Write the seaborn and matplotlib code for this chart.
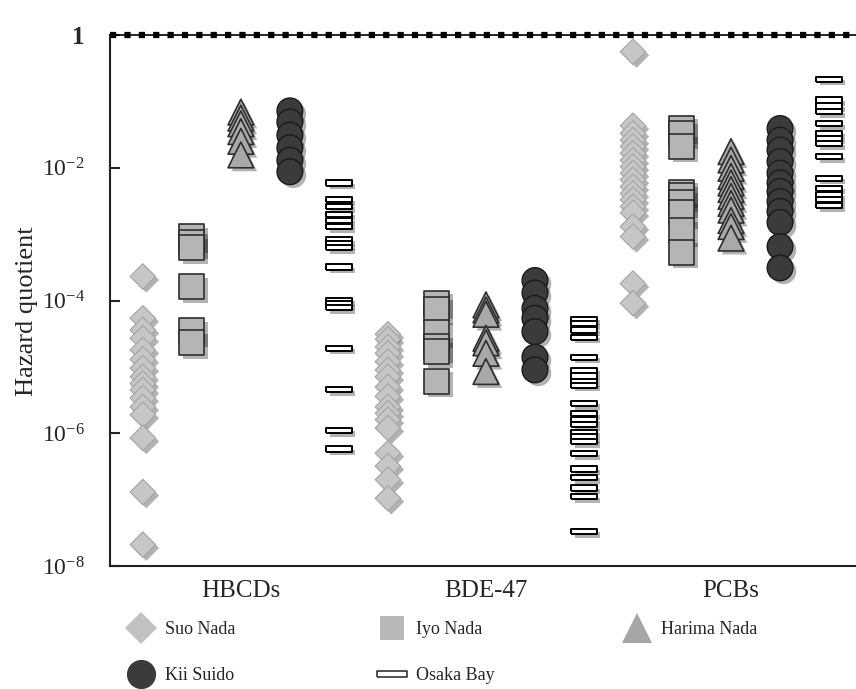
import pandas as pd
import matplotlib
matplotlib.use("Agg")
import matplotlib.pyplot as plt
import matplotlib.patheffects as pe
from matplotlib.lines import Line2D
import seaborn as sns

compounds = ["HBCDs", "BDE-47", "PCBs"]
sites = ["Suo Nada", "Iyo Nada", "Harima Nada", "Kii Suido", "Osaka Bay"]

# hazard quotients
hbcd_suo = [2.3e-4, 5.4e-5, 3.6e-5, 2.7e-5, 1.8e-5, 1.3e-5, 9.6e-6, 7.1e-6, 5.6e-6,
            4.5e-6, 3.4e-6, 2.5e-6, 1.9e-6, 8.5e-7, 1.3e-7, 2.1e-8]
hbcd_iyo = [9.1e-4, 7.4e-4, 6.2e-4, 1.6e-4, 3.5e-5, 2.3e-5]
hbcd_harima = [0.069, 0.056, 0.046, 0.035, 0.025, 0.0156]
hbcd_kii = [0.072, 0.049, 0.031, 0.020, 0.013, 0.0087]
hbcd_osaka = [5.9e-3, 3.3e-3, 2.6e-3, 2.0e-3, 1.6e-3, 1.3e-3, 8.2e-4, 7.1e-4, 6.2e-4,
              3.2e-4, 1.0e-4, 8.9e-5, 7.8e-5, 1.9e-5, 4.5e-6, 1.1e-6, 5.8e-7]

bde_suo = [3.1e-5, 2.6e-5, 2.0e-5, 1.6e-5, 1.2e-5, 9.0e-6, 7.1e-6, 5.0e-6, 3.6e-6,
           2.5e-6, 2.0e-6, 1.6e-6, 1.2e-6, 5.0e-7, 3.2e-7, 2.0e-7, 1.05e-7]
bde_iyo = [9.1e-5, 7.4e-5, 3.3e-5, 2.0e-5, 1.7e-5, 6.1e-6]
bde_harima = [8.6e-5, 7.2e-5, 6.2e-5, 2.7e-5, 2.3e-5, 1.6e-5, 8.5e-6]
bde_kii = [2.0e-4, 1.3e-4, 7.6e-5, 5.4e-5, 3.4e-5, 1.4e-5, 9.0e-6]
bde_osaka = [5.2e-5, 4.5e-5, 3.6e-5, 2.8e-5, 1.4e-5, 8.8e-6, 7.3e-6, 6.1e-6, 5.3e-6,
             2.8e-6, 1.96e-6, 1.6e-6, 1.34e-6, 1.03e-6, 8.9e-7, 7.5e-7, 4.9e-7,
             2.9e-7, 2.15e-7, 1.5e-7, 1.1e-7, 3.3e-8]

pcb_suo = [0.56, 0.043, 0.033, 0.026, 0.021, 0.0166, 0.013, 0.0104, 0.0083, 0.0066,
           0.0052, 0.0041, 0.0033, 0.0026, 0.0021, 0.0013, 0.00092, 1.8e-4, 9.1e-5]
pcb_iyo = [0.039, 0.033, 0.021, 0.0043, 0.0038, 0.0030, 0.0021, 0.00113, 0.00053]
pcb_harima = [0.0175, 0.0131, 0.0098, 0.0074, 0.0059, 0.0047, 0.0037, 0.0029,
              0.0023, 0.0016, 0.0013, 0.00087]
pcb_kii = [0.039, 0.026, 0.0185, 0.0124, 0.0083, 0.0059, 0.0044, 0.0031, 0.0022,
           0.0015, 0.00065, 0.00031]
pcb_osaka = [0.215, 0.105, 0.085, 0.070, 0.046, 0.033, 0.028, 0.023, 0.0147,
             0.0069, 0.0049, 0.0039, 0.0033, 0.0027]

data = {
    "HBCDs": [hbcd_suo, hbcd_iyo, hbcd_harima, hbcd_kii, hbcd_osaka],
    "BDE-47": [bde_suo, bde_iyo, bde_harima, bde_kii, bde_osaka],
    "PCBs": [pcb_suo, pcb_iyo, pcb_harima, pcb_kii, pcb_osaka],
}

rows = []
for comp in compounds:
    for site, vals in zip(sites, data[comp]):
        for v in vals:
            rows.append({"compound": comp, "site": site, "slot": comp + "|" + site, "hq": v})
df = pd.DataFrame(rows)
order = [c + "|" + s for c in compounds for s in sites]

sns.set_style("ticks")
plt.rcParams["font.family"] = ["Liberation Serif", "DejaVu Serif"]
plt.rcParams["mathtext.fontset"] = "custom"
plt.rcParams["mathtext.rm"] = "Liberation Serif"

bar = [(-1, -0.2), (1, -0.2), (1, 0.2), (-1, 0.2), (-1, -0.2)]
styles = {
    "Suo Nada": dict(marker="D", size=13, color="#c6c6c6", edgecolor="#a4a4a4", linewidth=0.8),
    "Iyo Nada": dict(marker="s", size=18, color="#b5b5b5", edgecolor="#2e2e2e", linewidth=1.2),
    "Harima Nada": dict(marker="^", size=18.5, color="#a9a9a9", edgecolor="#2e2e2e", linewidth=1.2),
    "Kii Suido": dict(marker="o", size=18.5, color="#3b3b3b", edgecolor="#1a1a1a", linewidth=1.0),
    "Osaka Bay": dict(marker=bar, size=18.5, color="white", edgecolor="black", linewidth=1.4),
}

fig = plt.figure(figsize=(8.56, 6.89), dpi=100)
ax = fig.add_axes([110 / 856, 1 - 566 / 689, 1 - 110 / 856, (566 - 35) / 689])

for site in sites:
    sub = df[df["site"] == site]
    sns.stripplot(data=sub, x="slot", y="hq", order=order, jitter=False, ax=ax,
                  **styles[site])

shadow = [pe.SimplePatchShadow(offset=(2.5, -2.5), shadow_rgbFace="black", alpha=0.3), pe.Normal()]
for coll in ax.collections:
    coll.set_path_effects(shadow)

ax.set_yscale("log")
ax.set_ylim(1e-8, 1)
ax.set_xlim(-0.67, 14.55)

ax.axhline(1, color="black", lw=1.2, clip_on=False, zorder=5)
ax.axhline(1, color="black", lw=4.5, ls=(0, (1, 1.3)), clip_on=False, zorder=5)

ax.set_yticks([1e-8, 1e-6, 1e-4, 1e-2, 1])
ax.set_yticklabels([r"$\mathregular{10^{-8}}$", r"$\mathregular{10^{-6}}$",
                    r"$\mathregular{10^{-4}}$", r"$\mathregular{10^{-2}}$", "1"], fontsize=17)
top_lab = ax.get_yticklabels()[-1]
top_lab.set_fontweight("bold")
top_lab.set_fontsize(18)
ax.yaxis.set_minor_locator(matplotlib.ticker.NullLocator())
ax.tick_params(axis="y", direction="in", length=7, width=1.5, pad=18)

ax.set_xticks([2, 7, 12])
ax.set_xticklabels(compounds, fontsize=18)
ax.tick_params(axis="x", length=0, pad=10)
ax.set_xlabel("")
ax.set_ylabel("Hazard quotient", fontsize=19)
ax.yaxis.set_label_coords(-0.097, 0.48)

for side in ["top", "right"]:
    ax.spines[side].set_visible(False)
for side in ["left", "bottom"]:
    ax.spines[side].set_linewidth(1.5)
    ax.spines[side].set_color("#222222")

# legend in three columns
def handle(marker, size, face, edge, lw):
    return Line2D([], [], ls="none", marker=marker, markersize=size,
                  markerfacecolor=face, markeredgecolor=edge, markeredgewidth=lw)

legend_cols = [
    ([handle("D", 16, "#c2c2c2", "#c2c2c2", 0), handle("o", 21, "#3b3b3b", "#3b3b3b", 0)],
     ["Suo Nada", "Kii Suido"], 127),
    ([handle("s", 17, "#b8b8b8", "#b8b8b8", 0), handle(bar, 22, "white", "#333333", 1.2)],
     ["Iyo Nada", "Osaka Bay"], 378),
    ([handle("^", 21, "#a6a6a6", "#a6a6a6", 0)], ["Harima Nada"], 623),
]
for hs, labs, xpix in legend_cols:
    fig.legend(hs, labs, loc="upper left", bbox_to_anchor=(xpix / 856, 1 - 621 / 689),
               frameon=False, fontsize=13, handlelength=1.5, handletextpad=0.6,
               labelspacing=1.6, borderpad=0, borderaxespad=0)

fig.savefig("out.png", dpi=100)
